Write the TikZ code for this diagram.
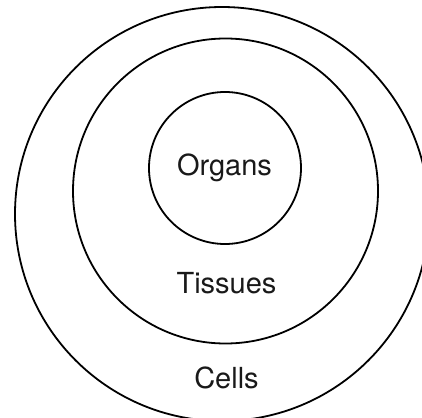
\documentclass[tikz,border=0pt]{standalone}
\usepackage{fontspec}
\setmainfont{TeX Gyre Heros}
\usepackage{tikz}

\begin{document}
\begin{tikzpicture}[x=1pt, y=-1pt,
    ring/.style={draw, circle, line width=1.8pt, inner sep=0pt},
    lbl/.style={anchor=base, font=\fontsize{29}{33}\selectfont, text=black!90}]
  \useasboundingbox (0, 0) rectangle (422, 417);
  \clip (0, 0) rectangle (422, 417);

  \node[ring, minimum size=414pt] (cells) at (222, 214) {};
  \node[ring, minimum size=305pt] (tissues) at (225.5, 191) {};
  \node[ring, minimum size=152pt] (organs) at (225, 168) {};

  \node[lbl] (organsLbl) at (224.5, 175) {Organs};
  \node[lbl] (tissuesLbl) at (226.5, 293) {Tissues};
  \node[lbl] (cellsLbl) at (226.5, 388) {Cells};
\end{tikzpicture}
\end{document}
